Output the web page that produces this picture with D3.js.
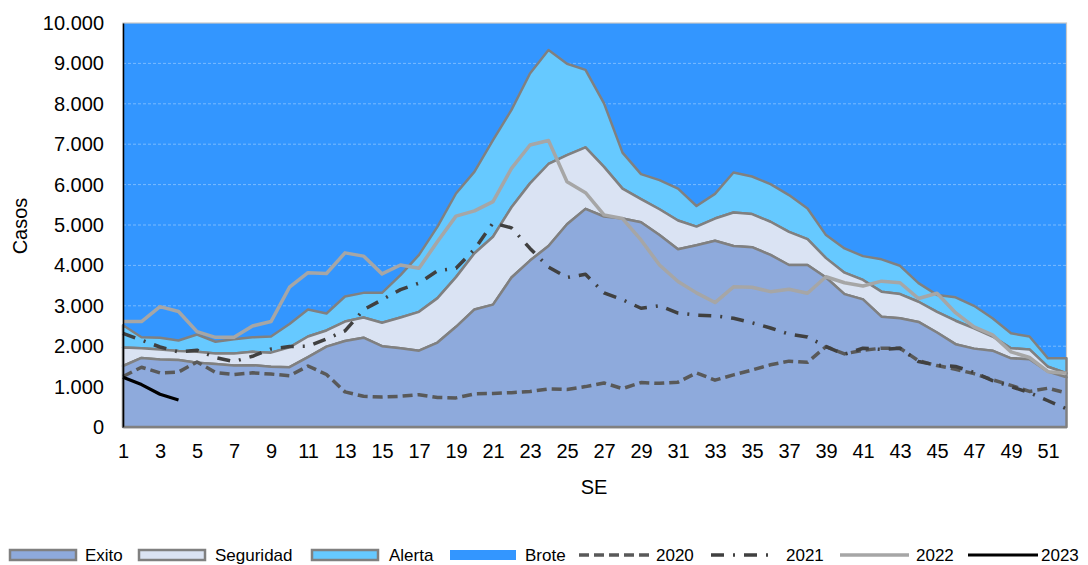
<!DOCTYPE html>
<html>
<head>
<meta charset="utf-8">
<script src="https://cdn.jsdelivr.net/npm/d3@7"></script>
<style>
  html, body { margin: 0; padding: 0; background: #fff; }
  svg text { font-family: "Liberation Sans", Arial, sans-serif; fill: #000; }
</style>
</head>
<body>
<svg id="chart" width="1088" height="565"></svg>
<script>
// ---- Data ----
const weeks = d3.range(1, 53);
const xTickLabels = d3.range(1, 53, 2);
const yTickValues = d3.range(0, 10001, 1000);

// Epidemic channel limits (upper bound of each zone)
const exito = [1510,1710,1670,1660,1590,1560,1520,1530,1490,1480,1730,1990,2130,2210,2000,1950,1890,2090,2480,2910,3030,3700,4120,4480,5020,5400,5210,5160,5070,4750,4400,4500,4610,4480,4450,4260,4010,4010,3700,3290,3160,2730,2690,2600,2340,2050,1940,1890,1700,1680,1370,1230];
const seguridad = [1970,1950,1920,1880,1860,1820,1820,1860,1840,1970,2240,2390,2610,2710,2580,2710,2850,3190,3710,4300,4710,5440,6030,6510,6730,6920,6440,5900,5640,5390,5110,4960,5160,5310,5270,5080,4830,4650,4180,3820,3640,3350,3290,3100,2850,2630,2440,2240,1950,1920,1490,1330];
const alerta = [2520,2220,2210,2140,2290,2110,2170,2220,2240,2550,2910,2810,3230,3320,3320,3760,4260,4960,5780,6320,7100,7850,8750,9330,8990,8840,8010,6790,6260,6110,5900,5470,5770,6300,6200,6010,5740,5410,4750,4420,4230,4150,3990,3560,3270,3210,3000,2690,2320,2240,1700,1700];
const brote = 10000;

// Yearly case curves
const y2020 = [1250,1480,1340,1360,1610,1350,1300,1340,1310,1270,1510,1300,870,760,740,760,800,730,720,820,830,850,880,940,930,1000,1090,950,1100,1080,1110,1340,1160,1290,1410,1540,1630,1600,1990,1810,1900,1950,1950,1640,1520,1430,1320,1170,1030,880,960,840];
const y2021 = [2320,2150,1980,1860,1900,1720,1620,1750,1930,1990,2000,2180,2380,2900,3150,3400,3560,3870,3930,4400,5050,4930,4420,3960,3700,3780,3320,3150,2940,3000,2820,2770,2750,2690,2580,2450,2300,2230,1990,1800,1950,1920,1950,1620,1530,1500,1350,1150,1000,850,650,450];
const y2022 = [2610,2610,2980,2860,2360,2220,2220,2500,2610,3460,3820,3800,4310,4230,3790,4010,3930,4590,5220,5350,5580,6400,6980,7090,6070,5800,5250,5160,4630,4010,3600,3320,3080,3470,3460,3350,3410,3310,3720,3570,3490,3610,3570,3180,3310,2830,2480,2280,1860,1720,1370,1330];
const y2023 = [1230,1050,810,670];

const zoneNames = ["Exito", "Seguridad", "Alerta", "Brote"];
const yearNames = ["2020", "2021", "2022", "2023"];

// ---- Styles ----
const C = {
  brote: "#3396FF", alerta: "#66C9FF", seguridad: "#DAE3F3", exito: "#8EAADC",
  edge: "#808080", l2020: "#595959", l2021: "#404040", l2022: "#A6A6A6", l2023: "#000000"
};

const svg = d3.select("#chart");
const M = { left: 123, right: 1066.5, top: 23, bottom: 427 };

const x = d3.scaleLinear().domain([1, 52]).range([M.left, M.right]);
const y = d3.scaleLinear().domain([0, 10000]).range([M.bottom, M.top]);

const loc = d3.formatLocale({ decimal: ",", thousands: ".", grouping: [3], currency: ["$", ""] });
const fmt = loc.format(",d");

const band = (lo, hi) => d3.area()
  .x((d, i) => x(weeks[i]))
  .y0((d, i) => y(lo(i)))
  .y1((d, i) => y(hi(i)));

// Brote (from alerta to top)
svg.append("path").datum(weeks)
  .attr("d", band(i => alerta[i], () => brote))
  .attr("fill", C.brote);

// plot border (top/right light)
svg.append("rect")
  .attr("x", M.left).attr("y", M.top)
  .attr("width", M.right - M.left).attr("height", M.bottom - M.top)
  .attr("fill", "none").attr("stroke", "#C8C8C8").attr("stroke-width", 1.2);

// gridlines
svg.append("g").selectAll("line").data(yTickValues.slice(1, -1)).join("line")
  .attr("x1", M.left).attr("x2", M.right)
  .attr("y1", d => y(d)).attr("y2", d => y(d))
  .attr("stroke", "rgba(255,255,255,0.35)").attr("stroke-width", 1)
  .attr("stroke-dasharray", "3,2");

// Alerta, Seguridad, Exito
svg.append("path").datum(weeks)
  .attr("d", band(i => seguridad[i], i => alerta[i]))
  .attr("fill", C.alerta).attr("stroke", C.edge).attr("stroke-width", 2.5).attr("stroke-linejoin", "round");
svg.append("path").datum(weeks)
  .attr("d", band(i => exito[i], i => seguridad[i]))
  .attr("fill", C.seguridad).attr("stroke", C.edge).attr("stroke-width", 2.5).attr("stroke-linejoin", "round");
svg.append("path").datum(weeks)
  .attr("d", band(() => 0, i => exito[i]))
  .attr("fill", C.exito).attr("stroke", C.edge).attr("stroke-width", 2.5).attr("stroke-linejoin", "round");

// Year lines
const line = d3.line().x((d, i) => x(weeks[i])).y(d => y(d));
const yearStyles = [
  { data: y2020, color: C.l2020, w: 3.5, dash: "10,5" },
  { data: y2021, color: C.l2021, w: 3.5, dash: "13,9,2,9" },
  { data: y2022, color: C.l2022, w: 3.5, dash: null },
  { data: y2023, color: C.l2023, w: 3.2, dash: null }
];
yearStyles.forEach(s => {
  svg.append("path").datum(s.data).attr("d", line)
    .attr("fill", "none").attr("stroke", s.color).attr("stroke-width", s.w)
    .attr("stroke-dasharray", s.dash).attr("stroke-linejoin", "round");
});

// Axes
const yAxis = svg.append("g").attr("transform", `translate(${M.left},0)`)
  .call(d3.axisLeft(y).tickValues(yTickValues).tickFormat(fmt).tickSize(0).tickPadding(19));
yAxis.select(".domain").attr("stroke", "#000").attr("stroke-width", 1.5);
yAxis.selectAll("text").style("font-size", "20px").style("font-family", '"Liberation Sans", Arial, sans-serif');

const xAxis = svg.append("g").attr("transform", `translate(0,${M.bottom})`)
  .call(d3.axisBottom(x).tickValues(xTickLabels).tickFormat(d3.format("d")).tickSize(0).tickPadding(17));
xAxis.select(".domain").attr("stroke", "#808080").attr("stroke-width", 1.5);
xAxis.selectAll("text").style("font-size", "20px").style("font-family", '"Liberation Sans", Arial, sans-serif');

// Axis titles
svg.append("text").attr("x", 594).attr("y", 494).attr("text-anchor", "middle")
  .style("font-size", "20px").text("SE");
svg.append("text").attr("transform", "translate(27,226) rotate(-90)").attr("text-anchor", "middle")
  .style("font-size", "20px").text("Casos");

// Legend
const leg = svg.append("g");
const ly = 555;
const zoneLegend = [
  { name: zoneNames[0], fill: C.exito, x: 10, tx: 85, stroke: true },
  { name: zoneNames[1], fill: C.seguridad, x: 139, tx: 215, stroke: true },
  { name: zoneNames[2], fill: C.alerta, x: 312, tx: 389, stroke: true },
  { name: zoneNames[3], fill: C.brote, x: 450, tx: 525, stroke: false }
];
zoneLegend.forEach(z => {
  leg.append("rect").attr("x", z.x).attr("y", ly - 5).attr("width", 66).attr("height", 10)
    .attr("fill", z.fill).attr("stroke", z.stroke ? C.edge : "none").attr("stroke-width", 2.5);
  leg.append("text").attr("x", z.tx).attr("y", ly + 6).style("font-size", "17px").text(z.name);
});
const yearLegend = [
  { x1: 579, x2: 652, tx: 656 },
  { x1: 711, x2: 772, tx: 786 },
  { x1: 840, x2: 909, tx: 916 },
  { x1: 968, x2: 1038, tx: 1041 }
];
yearLegend.forEach((l, i) => {
  const s = yearStyles[i];
  leg.append("line").attr("x1", l.x1).attr("x2", l.x2).attr("y1", ly).attr("y2", ly)
    .attr("stroke", s.color).attr("stroke-width", s.w).attr("stroke-dasharray", s.dash);
  leg.append("text").attr("x", l.tx).attr("y", ly + 6).style("font-size", "17px").text(yearNames[i]);
});
</script>
</body>
</html>
